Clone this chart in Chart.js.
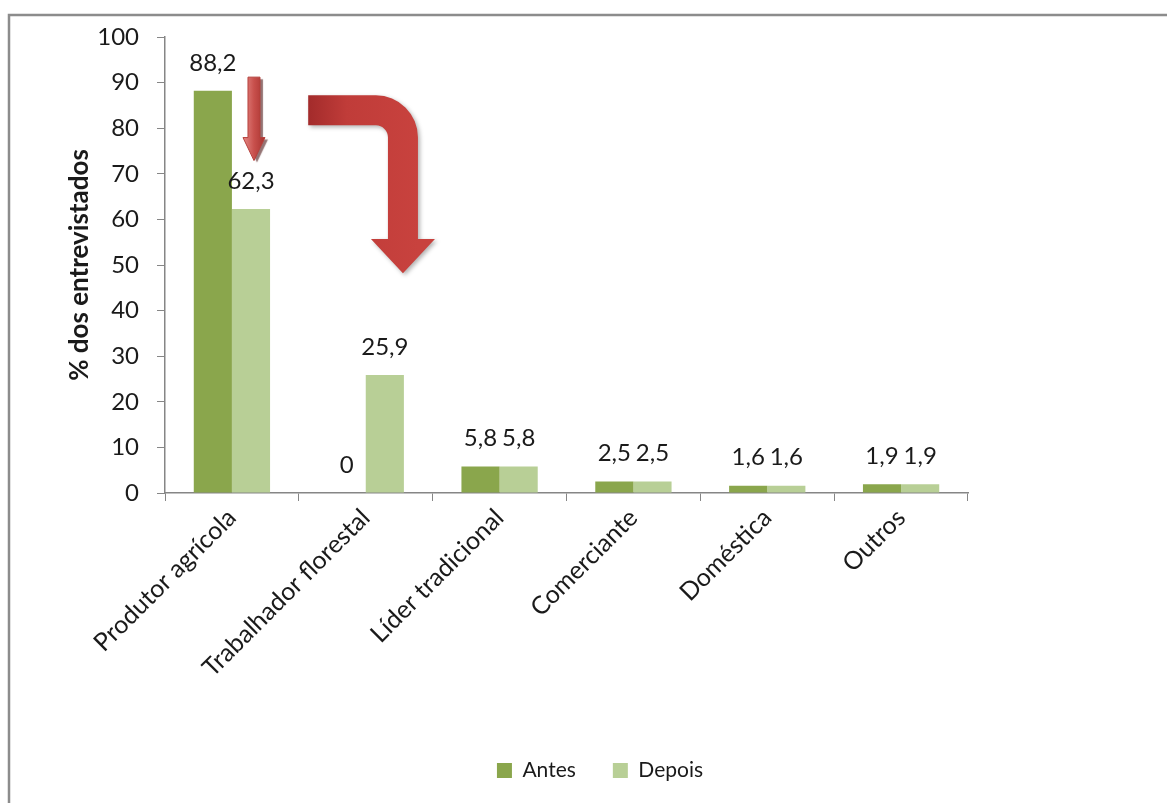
<!DOCTYPE html>
<html>
<head>
<meta charset="utf-8">
<script src="https://cdn.jsdelivr.net/npm/chart.js"></script>
<style>
  body { margin: 0; background: #fff; }
</style>
</head>
<body>
<canvas id="grafico" width="1167" height="803"></canvas>
<script>
// ocupação dos entrevistados antes e depois (%)
const categorias = ['Produtor agrícola', 'Trabalhador florestal', 'Líder tradicional', 'Comerciante', 'Doméstica', 'Outros'];
const antes = [88.2, 0, 5.8, 2.5, 1.6, 1.9];
const depois = [62.3, 25.9, 5.8, 2.5, 1.6, 1.9];
const eixoY = { min: 0, max: 100, passo: 10 };

const corAntes = '#8aa64c';
const corDepois = '#b8cf96';
const cinza = '#868686';

Chart.defaults.font.family = 'Lato, "Noto Sans", sans-serif';
Chart.defaults.color = '#1a1a1a';

// moldura cinza em volta do grafico
const moldura = {
  id: 'moldura',
  beforeDraw(chart) {
    const c = chart.ctx;
    c.save();
    c.strokeStyle = '#8c8c8c';
    c.lineWidth = 2.5;
    c.beginPath();
    c.moveTo(9, chart.height);
    c.lineTo(9, 15);
    c.lineTo(chart.width, 15);
    c.stroke();
    c.restore();
  }
};

// rotulos com o valor em cima de cada barra (virgula decimal)
const rotulos = {
  id: 'rotulos',
  afterDatasetsDraw(chart) {
    const c = chart.ctx;
    c.save();
    c.font = '24px Lato';
    c.fillStyle = '#1a1a1a';
    c.textAlign = 'center';
    c.textBaseline = 'middle';
    chart.data.datasets.forEach((ds, i) => {
      chart.getDatasetMeta(i).data.forEach((bar, j) => {
        const txt = String(ds.data[j]).replace('.', ',');
        c.fillText(txt, bar.x, bar.y - 28);
      });
    });
    c.restore();
  }
};

function gradVermelho(c, x0, x1) {
  const g = c.createLinearGradient(x0, 0, x1, 0);
  g.addColorStop(0, '#a32b2b');
  g.addColorStop(0.35, '#c03c39');
  g.addColorStop(1, '#c8423e');
  return g;
}

// setas vermelhas (queda do produtor agricola)
const setas = {
  id: 'setas',
  afterDraw(chart) {
    const c = chart.ctx;
    const sx = chart.scales.x, sy = chart.scales.y;

    // seta pequena sobre a barra "Depois"
    const bar = chart.getDatasetMeta(1).data[0];
    const xm = bar.x + 3;
    const yTopo = sy.getPixelForValue(91.2);
    const yPonta = sy.getPixelForValue(72.9);
    const meia = 6, cab = 11, altCab = 23;
    c.save();
    c.shadowColor = 'rgba(60,0,0,0.55)';
    c.shadowOffsetX = 3;
    c.shadowOffsetY = 2;
    c.shadowBlur = 1;
    const g = c.createLinearGradient(xm - cab, 0, xm + cab, 0);
    g.addColorStop(0, '#e58a87');
    g.addColorStop(0.5, '#c8504c');
    g.addColorStop(1, '#a8322f');
    c.fillStyle = g;
    c.beginPath();
    c.moveTo(xm - meia, yTopo);
    c.lineTo(xm + meia, yTopo);
    c.lineTo(xm + meia, yPonta - altCab);
    c.lineTo(xm + cab, yPonta - altCab);
    c.lineTo(xm, yPonta);
    c.lineTo(xm - cab, yPonta - altCab);
    c.lineTo(xm - meia, yPonta - altCab);
    c.closePath();
    c.fill();
    c.shadowColor = 'transparent';
    c.strokeStyle = '#b5403c';
    c.lineWidth = 1;
    c.stroke();
    c.restore();

    // seta grande dobrada
    const esp = 30, R = 42, r = R - esp, meiaCab = 32;
    const xIni = sx.getPixelForValue(0.57);
    const xFora = sx.getPixelForValue(1.39);
    const xDentro = xFora - esp;
    const xc = xFora - esp / 2;
    const yCima = sy.getPixelForValue(87.2);
    const yBaixo = yCima + esp;
    const yCab = sy.getPixelForValue(55.7);
    const yTip = sy.getPixelForValue(48.2);
    c.save();
    c.shadowColor = 'rgba(0,0,0,0.3)';
    c.shadowOffsetX = 2;
    c.shadowOffsetY = 2;
    c.shadowBlur = 4;
    c.fillStyle = gradVermelho(c, xIni, xIni + 110);
    c.beginPath();
    c.moveTo(xIni, yCima);
    c.lineTo(xFora - R, yCima);
    c.arcTo(xFora, yCima, xFora, yCima + R, R);
    c.lineTo(xFora, yCab);
    c.lineTo(xc + meiaCab, yCab);
    c.lineTo(xc, yTip);
    c.lineTo(xc - meiaCab, yCab);
    c.lineTo(xDentro, yCab);
    c.lineTo(xDentro, yBaixo + r);
    c.arcTo(xDentro, yBaixo, xDentro - r, yBaixo, r);
    c.lineTo(xIni, yBaixo);
    c.closePath();
    c.fill();
    c.restore();
  }
};

new Chart(document.getElementById('grafico'), {
  type: 'bar',
  data: {
    labels: categorias,
    datasets: [
      { label: 'Antes', data: antes, backgroundColor: corAntes, barPercentage: 1, categoryPercentage: 0.57 },
      { label: 'Depois', data: depois, backgroundColor: corDepois, barPercentage: 1, categoryPercentage: 0.57 }
    ]
  },
  options: {
    responsive: false,
    animation: false,
    layout: { padding: { left: 60, top: 37, right: 27, bottom: 12 } },
    plugins: {
      tooltip: { enabled: false },
      legend: {
        position: 'bottom',
        labels: { boxWidth: 15, boxHeight: 15, padding: 37, font: { size: 21 } }
      }
    },
    scales: {
      x: {
        grid: { display: true, drawOnChartArea: false, drawTicks: true, tickLength: 8, color: cinza, offset: true },
        border: { color: cinza, width: 1.5 },
        ticks: { minRotation: 45, maxRotation: 45, padding: 2, font: { size: 25 }, color: '#1a1a1a' },
        afterFit(s) { s.height = 230; }
      },
      y: {
        min: eixoY.min,
        max: eixoY.max,
        grid: { drawOnChartArea: false, drawTicks: true, tickLength: 8, color: cinza },
        border: { color: cinza, width: 1.5 },
        ticks: { stepSize: eixoY.passo, padding: 18, font: { size: 24 }, color: '#1a1a1a' },
        title: { display: true, text: '% dos entrevistados', font: { size: 26, weight: 'bold' }, color: '#1a1a1a' },
        afterFit(s) { s.width = 105; }
      },
      // espaço vazio à direita do grafico
      vazio: {
        position: 'right',
        display: true,
        grid: { display: false },
        border: { display: false },
        ticks: { display: false },
        afterFit(s) { s.width = 172; }
      }
    }
  },
  plugins: [moldura, rotulos, setas]
});
</script>
</body>
</html>
